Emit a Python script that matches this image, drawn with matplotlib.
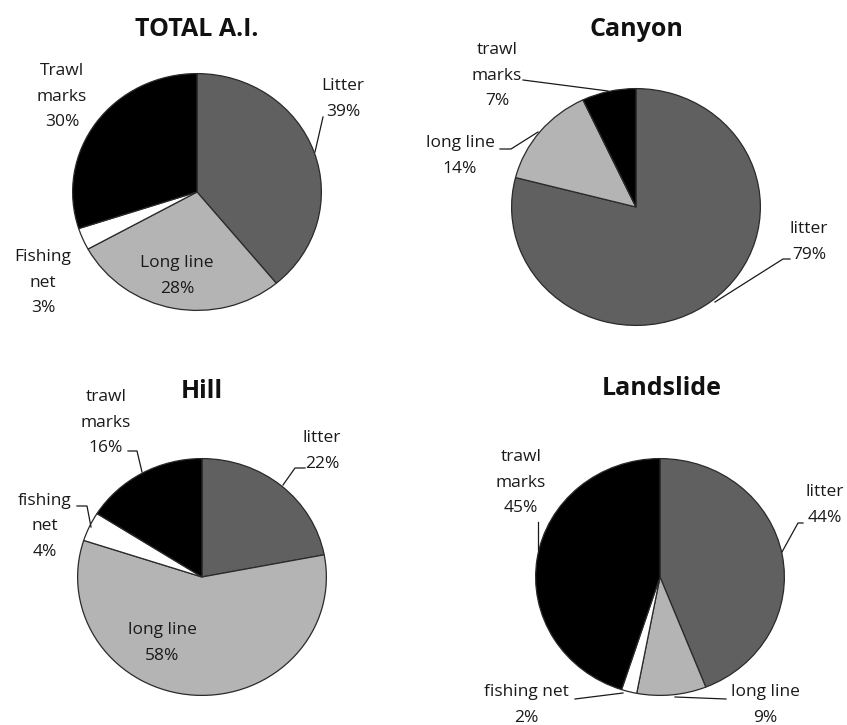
import matplotlib
matplotlib.use("Agg")
import matplotlib.pyplot as plt

plt.rcParams["font.family"] = ["Open Sans", "DejaVu Sans"]

W, H = 847, 725

# ---- data -------------------------------------------------------------
titles = ["TOTAL A.I.", "Canyon", "Hill", "Landslide"]
total_vals = [39, 28, 3, 30]
canyon_vals = [79, 14, 0, 7]
hill_vals = [22, 58, 4, 16]
landslide_vals = [44, 9, 2, 45]

total_names = ["Litter", "Long line", "Fishing\nnet", "Trawl\nmarks"]
canyon_names = ["litter", "long line", "fishing net", "trawl\nmarks"]
hill_names = ["litter", "long line", "fishing\nnet", "trawl\nmarks"]
landslide_names = ["litter", "long line", "fishing net", "trawl\nmarks"]

colors = ["#606060", "#b4b4b4", "#ffffff", "#000000"]

# ---- layout (pixels) --------------------------------------------------
centers = [(197, 192), (636, 207), (202, 577), (660, 577)]
title_pos = [(197, 29), (636, 29), (202, 391), (662, 388)]
RX, RY = 125, 119

# label anchor (center x, y of first line), per chart per slice; None = hidden
label_pos = [
    [(343, 86), (177, 263), (43, 257), (62, 71)],
    [(809, 229), (460, 143), None, (497, 50)],
    [(322, 438), (162, 630), (45, 501), (106, 397)],
    [(825, 492), (765, 692), (526, 692), (521, 457)],
]
leaders = [
    [[(323, 117), (315, 152)]],
    [[(523, 80), (608, 91)],
     [(500, 149), (511, 149), (538, 132)],
     [(790, 259), (783, 259), (715, 302)]],
    [[(305, 468), (295, 468), (283, 485)],
     [(128, 451), (137, 451), (142, 472)],
     [(77, 506), (87, 506), (91, 527)]],
    [[(538, 522), (538, 550)],
     [(803, 523), (798, 523), (782, 552)],
     [(575, 699), (623, 693)],
     [(726, 699), (675, 697)]],
]

all_vals = [total_vals, canyon_vals, hill_vals, landslide_vals]
all_names = [total_names, canyon_names, hill_names, landslide_names]

fig = plt.figure(figsize=(W / 100, H / 100), dpi=100)

for vals, (cx, cy) in zip(all_vals, centers):
    ax = fig.add_axes([(cx - RX) / W, 1 - (cy + RY) / H, 2 * RX / W, 2 * RY / H])
    ax.pie(vals, colors=colors, startangle=90, counterclock=False,
           wedgeprops=dict(edgecolor="#2a2a2a", linewidth=0.9))
    ax.set_aspect("auto")
    ax.set_xlim(-1.005, 1.005)
    ax.set_ylim(-1.005, 1.005)
    ax.axis("off")

# overlay in pixel coordinates for titles, labels and leader lines
ov = fig.add_axes([0, 0, 1, 1], zorder=5)
ov.set_xlim(0, W)
ov.set_ylim(H, 0)
ov.axis("off")

for t, (tx, ty) in zip(titles, title_pos):
    ov.text(tx, ty, t, ha="center", va="center", fontsize=18,
            fontweight="bold", color="#111111")

for vals, names, positions in zip(all_vals, all_names, label_pos):
    for v, n, p in zip(vals, names, positions):
        if p is None:
            continue
        lines = n.split("\n") + [f"{v}%"]
        for i, line in enumerate(lines):
            ov.text(p[0], p[1] + i * 25.5, line, ha="center", va="center",
                    fontsize=12.5, color="#1a1a1a")

for chart in leaders:
    for pts in chart:
        xs = [p[0] for p in pts]
        ys = [p[1] for p in pts]
        ov.plot(xs, ys, color="#1a1a1a", linewidth=0.9)

fig.savefig("out.png", dpi=100, facecolor="white")
